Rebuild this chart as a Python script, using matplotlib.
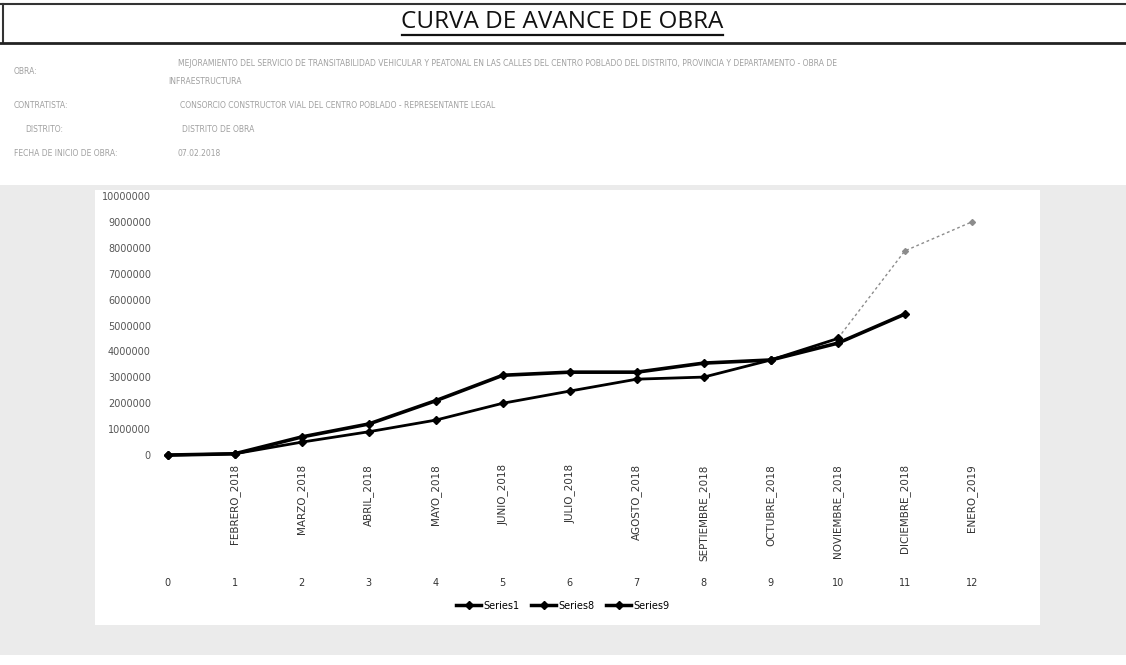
import numpy as np
import matplotlib.pyplot as plt
from matplotlib.patches import Rectangle
from matplotlib.lines import Line2D

# --- datos ---
indices = list(range(13))
meses = ["FEBRERO_2018", "MARZO_2018", "ABRIL_2018", "MAYO_2018", "JUNIO_2018",
         "JULIO_2018", "AGOSTO_2018", "SEPTIEMBRE_2018", "OCTUBRE_2018",
         "NOVIEMBRE_2018", "DICIEMBRE_2018", "ENERO_2019"]

# curva programada completa (tramo final tenue)
series1 = [0, 50000, 500000, 900000, 1350000, 2000000, 2470000, 2930000,
           3010000, 3670000, 4500000, 7880000, 9000000]
# mismo tramo hasta noviembre, trazo grueso
series8 = [0, 50000, 500000, 900000, 1350000, 2000000, 2470000, 2930000,
           3010000, 3670000, 4500000]
# curva ejecutada
series9 = [0, 50000, 700000, 1200000, 2100000, 3080000, 3200000, 3200000,
           3550000, 3670000, 4320000, 5440000]

yticks = list(range(0, 10000001, 1000000))

W, H = 1126, 665
fig = plt.figure(figsize=(W / 100, H / 100), dpi=100)

def fx(px):
    return px / W

def fy(py):
    return 1 - py / H

# fondo gris del escaneo alrededor del gráfico
fig.patches.append(Rectangle((0, fy(655)), 1, fy(185) - fy(655), transform=fig.transFigure,
                             facecolor="#ebebeb", edgecolor="none", zorder=-2))
fig.patches.append(Rectangle((fx(95), fy(625)), fx(1040) - fx(95), fy(190) - fy(625),
                             transform=fig.transFigure, facecolor="white",
                             edgecolor="none", zorder=-1))

# cabecera
fig.add_artist(Line2D([0, 1], [fy(4), fy(4)], color="#333333", lw=1.5))
fig.add_artist(Line2D([fx(3), fx(3)], [fy(4), fy(43)], color="#333333", lw=1.5))
fig.add_artist(Line2D([0, 1], [fy(43), fy(43)], color="#222222", lw=2))
fig.text(fx(562), fy(22), "CURVA DE AVANCE DE OBRA", ha="center", va="center",
         fontsize=17.5, family="Open Sans", color="#111111")
fig.add_artist(Line2D([fx(402), fx(723)], [fy(35), fy(35)], color="#111111", lw=1.6))

gris = "#a0a0a0"
fs = 5.5
fig.text(fx(14), fy(72), "OBRA:", fontsize=fs, color=gris, va="center")
fig.text(fx(178), fy(63), "MEJORAMIENTO DEL SERVICIO DE TRANSITABILIDAD VEHICULAR Y PEATONAL EN LAS CALLES "
         "DEL CENTRO POBLADO DEL DISTRITO, PROVINCIA Y DEPARTAMENTO - OBRA DE",
         fontsize=fs, color=gris, va="center")
fig.text(fx(168), fy(82), "INFRAESTRUCTURA", fontsize=fs, color=gris, va="center")
fig.text(fx(14), fy(106), "CONTRATISTA:", fontsize=fs, color=gris, va="center")
fig.text(fx(180), fy(106), "CONSORCIO CONSTRUCTOR VIAL DEL CENTRO POBLADO - REPRESENTANTE LEGAL",
         fontsize=fs, color=gris, va="center")
fig.text(fx(25), fy(130), "DISTRITO:", fontsize=fs, color=gris, va="center")
fig.text(fx(182), fy(130), "DISTRITO DE OBRA", fontsize=fs, color=gris, va="center")
fig.text(fx(14), fy(153), "FECHA DE INICIO DE OBRA:", fontsize=fs, color=gris, va="center")
fig.text(fx(178), fy(153), "07.02.2018", fontsize=fs, color=gris, va="center")

# área del gráfico
ax = fig.add_axes([fx(155), fy(460), fx(1000) - fx(155), fy(190) - fy(460)])
ax.set_xlim(-0.19, 12.42)
ax.set_ylim(-190000, 10230000)
ax.patch.set_alpha(0)

ax.plot(indices, series1, color="#8c8c8c", lw=1, ls=(0, (2, 2)),
        marker="D", markersize=3, zorder=2)
ax.plot(indices[:len(series8)], series8, color="black", lw=2,
        marker="D", markersize=4, zorder=3)
ax.plot(indices[:len(series9)], series9, color="black", lw=2.6,
        marker="D", markersize=4.5, zorder=4)

ax.set_yticks(yticks)
ax.set_yticklabels([str(v) for v in yticks], fontsize=7, color="#555555")
ax.set_xticks(indices[1:])
ax.set_xticklabels(meses, rotation=90, fontsize=7.5, color="#333333", va="top")
ax.tick_params(length=0, pad=3)
for s in ax.spines.values():
    s.set_visible(False)

tr = ax.get_xaxis_transform()
for i in indices:
    ax.text(i, -0.456, str(i), transform=tr, ha="center", va="center",
            fontsize=7, color="#333333")

handles = [Line2D([], [], color="black", lw=2.5, marker="D", markersize=4)
           for _ in range(3)]
ax.legend(handles, ["Series1", "Series8", "Series9"], loc="center",
          bbox_to_anchor=(0.483, -0.54), ncol=3, frameon=False, fontsize=7,
          handlelength=2.5, columnspacing=1.2, handletextpad=0.3)

fig.savefig("out.png", dpi=100)
